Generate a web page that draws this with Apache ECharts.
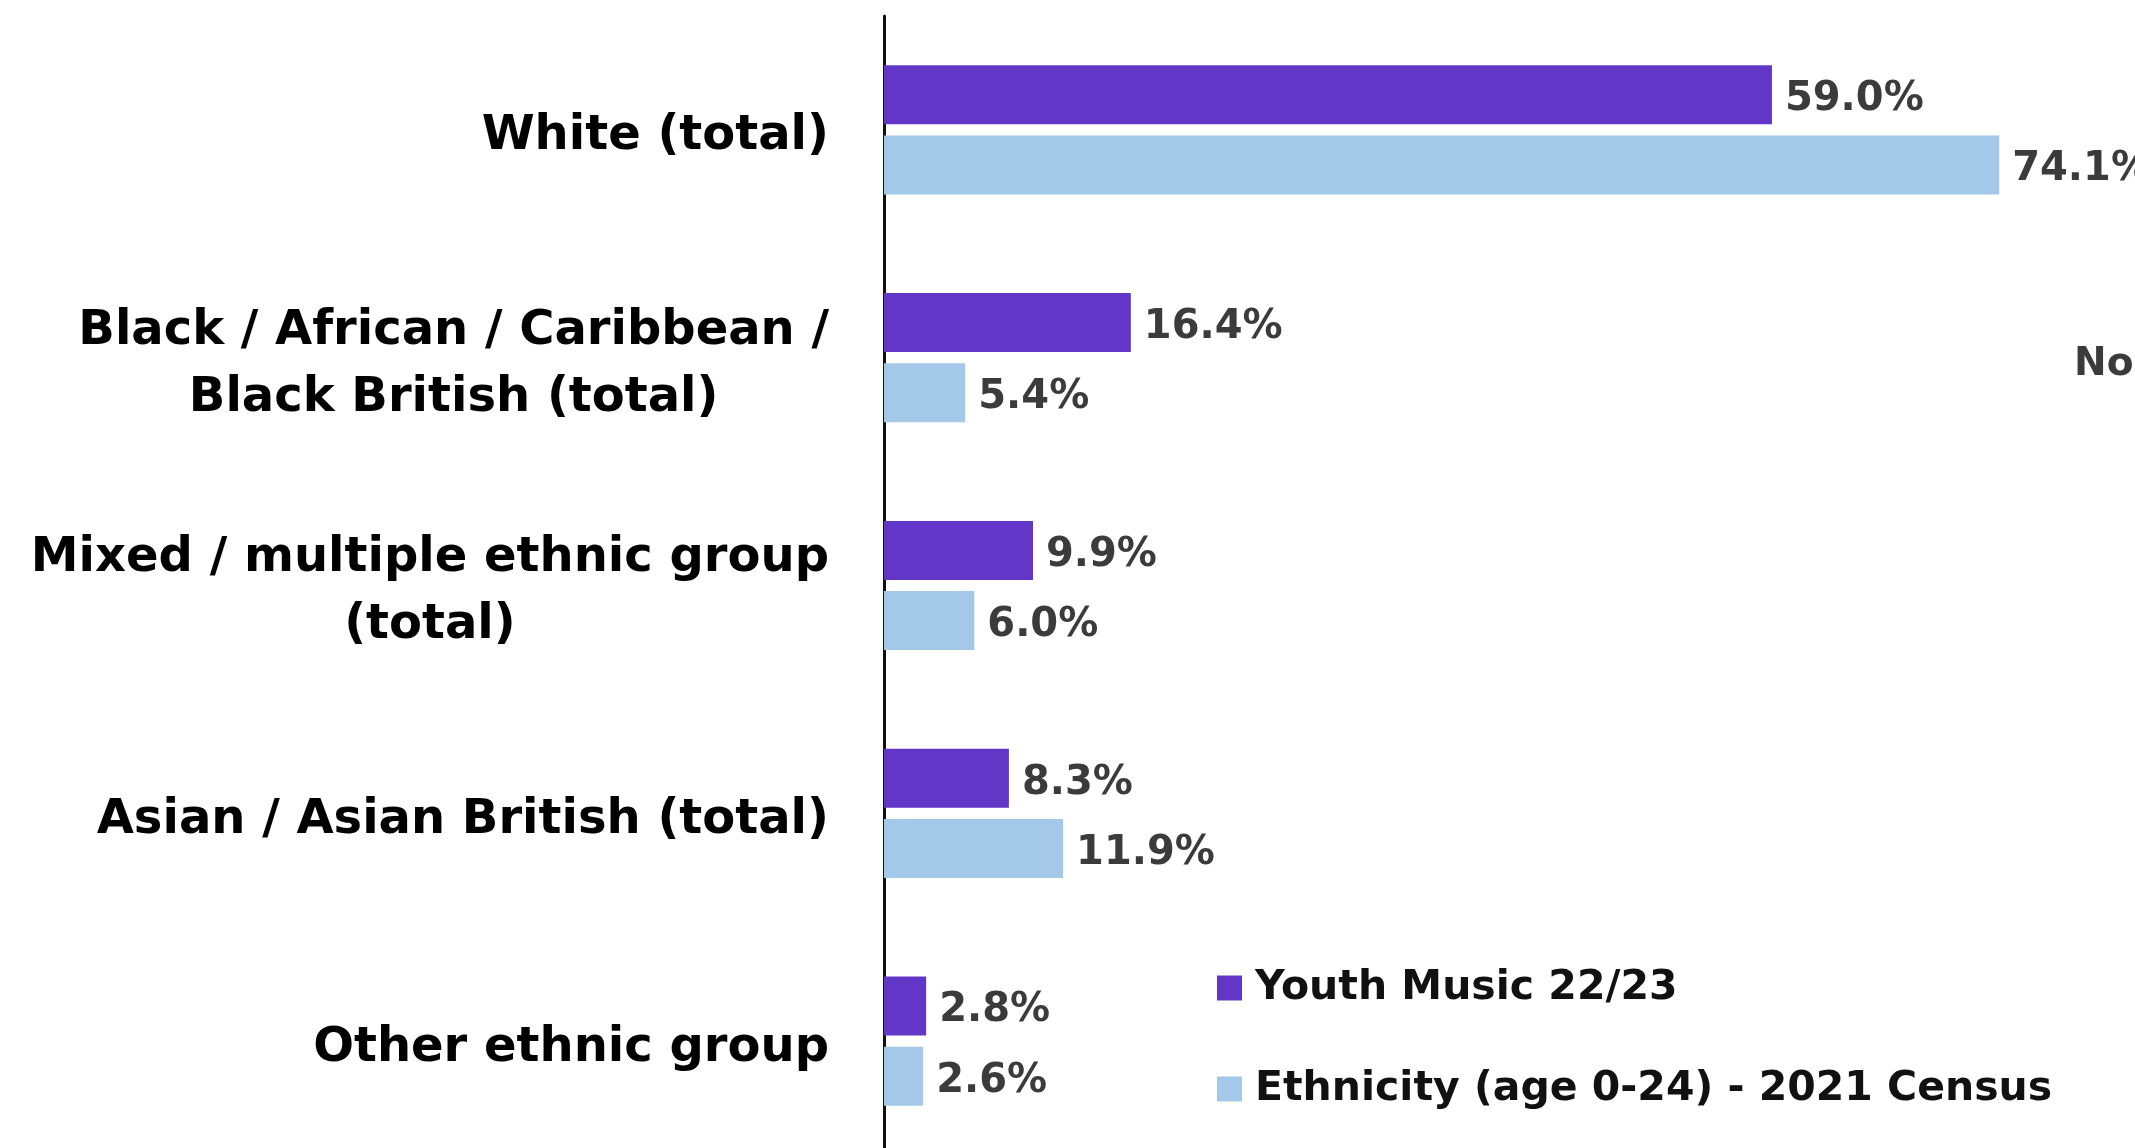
<!DOCTYPE html>
<html>
<head>
<meta charset="utf-8">
<script src="https://cdn.jsdelivr.net/npm/echarts@6/dist/echarts.min.js"></script>
<style>
    html, body { margin: 0; padding: 0; background: #fff; }
    #chart { width: 2135px; height: 1148px; }
</style>
</head>
<body>
<div id="chart"></div>
<script>
// 分类（从上到下）
const categories = [
    'White (total)',
    'Black / African / Caribbean /\nBlack British (total)',
    'Mixed / multiple ethnic group\n(total)',
    'Asian / Asian British (total)',
    'Other ethnic group'
]
const seriesNames = ['Youth Music 22/23', 'Ethnicity (age 0-24) - 2021 Census']
const youthMusic = [59.0, 16.4, 9.9, 8.3, 2.8]
const census2021 = [74.1, 5.4, 6.0, 11.9, 2.6]

const chart = echarts.init(document.getElementById('chart'))

const labelStyle = {
    show: true,
    position: 'right',
    distance: 13,
    offset: [0, 5],
    formatter: p => p.value.toFixed(1) + '%',
    fontFamily: 'DejaVu Sans',
    fontWeight: 'bold',
    fontSize: 40,
    color: '#3b3b3b'
}

const option = {
    backgroundColor: '#fff',
    animation: false,
    grid: {
        left: 884,
        top: 16,
        width: 1204,
        height: 1139,
        outerBoundsMode: 'none' // 网格允许超出画布底部
    },
    legend: {
        orient: 'vertical',
        left: 1212,
        top: 959,
        icon: 'rect',
        itemWidth: 25,
        itemHeight: 25,
        itemGap: 53,
        data: seriesNames,
        textStyle: {
            fontFamily: 'DejaVu Sans',
            fontWeight: 'bold',
            fontSize: 41,
            lineHeight: 48,
            padding: [0, 0, 0, 8],
            color: '#111'
        }
    },
    xAxis: {
        type: 'value',
        min: 0,
        max: 80,
        show: false,
        splitLine: { show: false }
    },
    yAxis: {
        type: 'category',
        inverse: true,
        data: categories,
        axisTick: { show: false },
        axisLine: { show: true, lineStyle: { color: '#111', width: 3 } },
        axisLabel: {
            margin: 55,
            // 每行居中，整体右对齐
            formatter: v => v.split('\n').map(s => '{c|' + s + '}').join('\n'),
            rich: {
                c: {
                    align: 'center',
                    fontFamily: 'DejaVu Sans',
                    fontWeight: 'bold',
                    fontSize: 48,
                    lineHeight: 67,
                    padding: [14, 0, 0, 0],
                    color: '#000'
                }
            }
        }
    },
    graphic: [
        {
            type: 'text',
            left: 2074,
            top: 345,
            style: {
                text: 'No',
                font: 'bold 39px "DejaVu Sans"',
                fill: '#3b3b3b'
            }
        }
    ],
    series: [
        {
            name: seriesNames[0],
            type: 'bar',
            data: youthMusic,
            barWidth: 59,
            barGap: '19%',
            itemStyle: { color: '#6237C8' },
            label: labelStyle
        },
        {
            name: seriesNames[1],
            type: 'bar',
            data: census2021,
            barWidth: 59,
            barGap: '19%',
            itemStyle: { color: '#A4C8E8' },
            label: labelStyle
        }
    ]
}
chart.setOption(option)
</script>
</body>
</html>
